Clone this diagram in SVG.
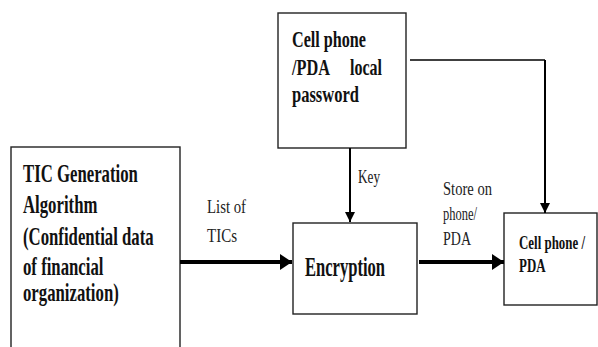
<svg xmlns="http://www.w3.org/2000/svg" width="598" height="347" viewBox="0 0 598 347">
<defs>
<style>
.box{fill:#fff;stroke:#222;stroke-width:1.4}
.b{font-family:"Liberation Serif",serif;font-weight:bold;fill:#111}
.r{font-family:"Liberation Serif",serif;fill:#222;font-size:18px}
.ln{fill:none;stroke:#000}
</style>
<marker id="ah" markerWidth="10" markerHeight="12" refX="12" refY="6" orient="auto" markerUnits="userSpaceOnUse" viewBox="0 0 12 12"><path d="M0,0 L12,6 L0,12 Z" fill="#000"/></marker>
<marker id="ah2" markerWidth="12" markerHeight="16" refX="12" refY="8" orient="auto" markerUnits="userSpaceOnUse"><path d="M0,0 L12,8 L0,16 Z" fill="#000"/></marker>
</defs>
<rect width="598" height="347" fill="#fff"/>
<g id="tic">
<rect class="box" x="11" y="147" width="169" height="220"/>
<text class="b" font-size="25" transform="translate(23,182) scale(0.67,1)">TIC Generation</text>
<text class="b" font-size="25" transform="translate(23,213) scale(0.67,1)">Algorithm</text>
<text class="b" font-size="25" transform="translate(23,245) scale(0.67,1)">(Confidential data</text>
<text class="b" font-size="25" transform="translate(23,275) scale(0.67,1)">of financial</text>
<text class="b" font-size="25" transform="translate(23,301) scale(0.67,1)">organization)</text>
</g>
<g id="password">
<rect class="box" x="278" y="13" width="128" height="135"/>
<text class="b" font-size="23" x="292" y="47" textLength="74" lengthAdjust="spacingAndGlyphs">Cell phone</text>
<text class="b" font-size="23" x="292" y="75" textLength="38" lengthAdjust="spacingAndGlyphs">/PDA</text>
<text class="b" font-size="23" x="350" y="75" textLength="32" lengthAdjust="spacingAndGlyphs">local</text>
<text class="b" font-size="23" x="292" y="102" textLength="67" lengthAdjust="spacingAndGlyphs">password</text>
</g>
<g id="encryption">
<rect class="box" x="293" y="223" width="124" height="91"/>
<text class="b" font-size="27" x="305" y="276" textLength="80" lengthAdjust="spacingAndGlyphs">Encryption</text>
</g>
<g id="phone">
<rect class="box" x="504" y="213" width="93" height="92"/>
<text class="b" font-size="19" transform="translate(519,249) scale(0.68,1)">Cell phone /</text>
<text class="b" font-size="19" transform="translate(519,272) scale(0.68,1)">PDA</text>
</g>
<g id="connectors">
<line class="ln" x1="350" y1="148" x2="350" y2="222" stroke-width="2" marker-end="url(#ah)"/>
<line class="ln" x1="180" y1="262" x2="292" y2="262" stroke-width="4" marker-end="url(#ah2)"/>
<line class="ln" x1="419" y1="262" x2="504" y2="262" stroke-width="4" marker-end="url(#ah2)"/>
<polyline class="ln" points="410,60 545,60" stroke-width="1.4"/>
<line class="ln" x1="545" y1="60" x2="545" y2="213" stroke-width="2" marker-end="url(#ah)"/>
<text class="r" x="358" y="183" textLength="22" lengthAdjust="spacingAndGlyphs">Key</text>
<text class="r" x="207" y="213" textLength="39" lengthAdjust="spacingAndGlyphs">List of</text>
<text class="r" x="207" y="242" textLength="30" lengthAdjust="spacingAndGlyphs">TICs</text>
<text class="r" x="443" y="195" textLength="49" lengthAdjust="spacingAndGlyphs">Store  on</text>
<text class="r" x="443" y="220" textLength="34" lengthAdjust="spacingAndGlyphs">phone/</text>
<text class="r" x="443" y="245" textLength="28" lengthAdjust="spacingAndGlyphs">PDA</text>
</g>
</svg>
